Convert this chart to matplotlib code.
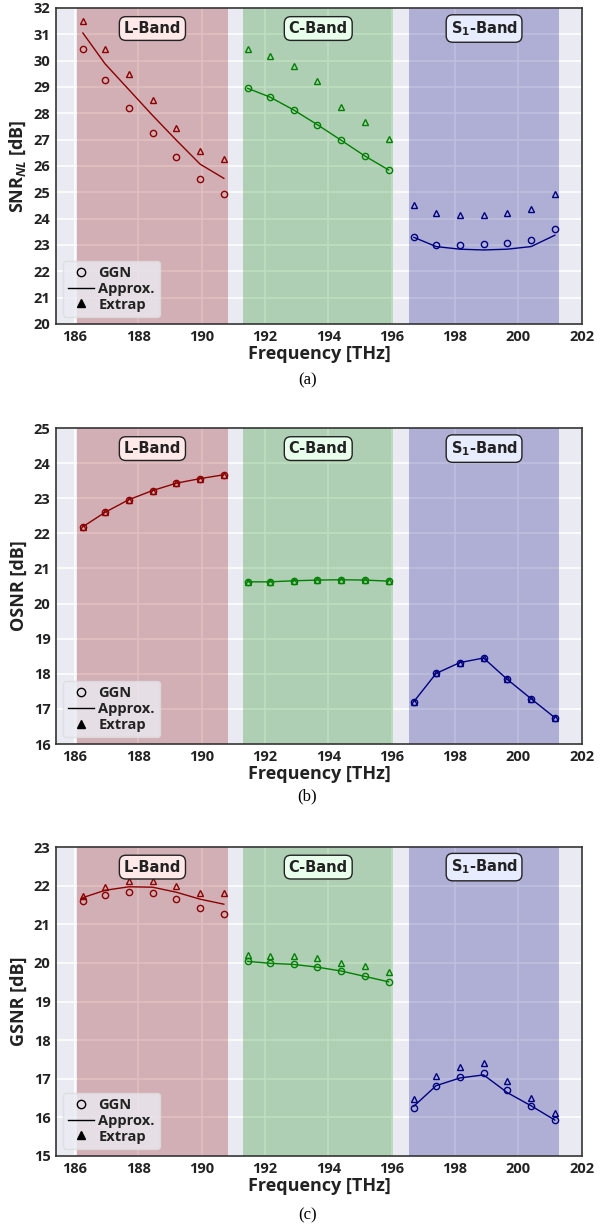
import numpy as np
import matplotlib
matplotlib.use('Agg')
import matplotlib.pyplot as plt
from matplotlib.lines import Line2D

plt.rcParams['font.family'] = ['Open Sans', 'DejaVu Sans']
plt.rcParams['font.weight'] = 'bold'
plt.rcParams['mathtext.fontset'] = 'custom'
plt.rcParams['mathtext.rm'] = 'Open Sans:bold'
plt.rcParams['mathtext.it'] = 'Open Sans:italic:bold'
plt.rcParams['mathtext.bf'] = 'Open Sans:bold'

# channel frequencies [THz]
f_L = [186.25, 186.95, 187.7, 188.45, 189.2, 189.95, 190.7]
f_C = [191.45, 192.15, 192.9, 193.65, 194.4, 195.15, 195.9]
f_S = [196.7, 197.4, 198.15, 198.9, 199.65, 200.4, 201.15]

bands = ['L-Band', 'C-Band', r'S$_1$-Band']
band_lo = [186.07, 191.31, 196.55]
band_hi = [190.82, 196.05, 201.28]
band_col = ['darkred', 'green', 'navy']
box_col = ['#FFE8E8', '#E8FFEC', '#E8ECFF']

# (a) SNR_NL
snr_ggn_L = [30.45, 29.25, 28.2, 27.25, 26.35, 25.5, 24.95]
snr_app_L = [31.05, 29.88, 28.9, 27.92, 26.98, 26.07, 25.53]
snr_ext_L = [31.5, 30.45, 29.48, 28.5, 27.45, 26.55, 26.27]
snr_ggn_C = [28.95, 28.62, 28.13, 27.57, 26.98, 26.38, 25.85]
snr_app_C = [28.95, 28.62, 28.13, 27.57, 26.98, 26.38, 25.85]
snr_ext_C = [30.46, 30.18, 29.79, 29.21, 28.24, 27.68, 27.03]
snr_ggn_S = [23.3, 23.0, 22.98, 23.02, 23.08, 23.19, 23.62]
snr_app_S = [23.29, 22.94, 22.84, 22.81, 22.84, 22.94, 23.37]
snr_ext_S = [24.53, 24.23, 24.15, 24.15, 24.23, 24.35, 24.93]

# (b) OSNR
osnr_L = [22.19, 22.6, 22.96, 23.22, 23.43, 23.56, 23.67]
osnr_C = [20.62, 20.62, 20.65, 20.67, 20.68, 20.67, 20.64]
osnr_S = [17.21, 18.01, 18.32, 18.45, 17.84, 17.29, 16.75]

# (c) GSNR
gsnr_ggn_L = [21.6, 21.76, 21.84, 21.8, 21.66, 21.43, 21.26]
gsnr_app_L = [21.69, 21.88, 21.97, 21.96, 21.83, 21.65, 21.52]
gsnr_ext_L = [21.73, 21.96, 22.12, 22.13, 22.0, 21.81, 21.8]
gsnr_ggn_C = [20.04, 19.99, 19.96, 19.89, 19.79, 19.65, 19.51]
gsnr_app_C = [20.04, 19.99, 19.96, 19.89, 19.79, 19.65, 19.51]
gsnr_ext_C = [20.21, 20.18, 20.17, 20.13, 20.0, 19.91, 19.76]
gsnr_ggn_S = [16.25, 16.82, 17.04, 17.16, 16.7, 16.3, 15.94]
gsnr_app_S = [16.29, 16.82, 17.02, 17.1, 16.64, 16.3, 15.93]
gsnr_ext_S = [16.47, 17.08, 17.31, 17.42, 16.93, 16.51, 16.12]

panels = [
    dict(pos=[0.091, 0.7364, 0.855, 0.2571], ylim=(20, 32), ylabel=r'SNR$_{NL}$ [dB]', cap='(a)', capy=380,
         ggn=[snr_ggn_L, snr_ggn_C, snr_ggn_S], app=[snr_app_L, snr_app_C, snr_app_S],
         ext=[snr_ext_L, snr_ext_C, snr_ext_S]),
    dict(pos=[0.091, 0.3946, 0.855, 0.2571], ylim=(16, 25), ylabel='OSNR [dB]', cap='(b)', capy=796,
         ggn=[osnr_L, osnr_C, osnr_S], app=[osnr_L, osnr_C, osnr_S], ext=[osnr_L, osnr_C, osnr_S]),
    dict(pos=[0.091, 0.0594, 0.855, 0.2514], ylim=(15, 23), ylabel='GSNR [dB]', cap='(c)', capy=1215,
         ggn=[gsnr_ggn_L, gsnr_ggn_C, gsnr_ggn_S], app=[gsnr_app_L, gsnr_app_C, gsnr_app_S],
         ext=[gsnr_ext_L, gsnr_ext_C, gsnr_ext_S]),
]

fig = plt.figure(figsize=(6.15, 12.29), dpi=100)
freqs = [f_L, f_C, f_S]

for p in panels:
    ax = fig.add_axes(p['pos'])
    ax.set_facecolor('#EAEAF2')
    ax.grid(True, color='white', linewidth=1.1)
    ax.set_axisbelow(True)
    for s in ax.spines.values():
        s.set_color('#333333')
        s.set_linewidth(1.2)
    for k in range(3):
        ax.axvspan(band_lo[k], band_hi[k], color=band_col[k], alpha=0.25, lw=0, zorder=1)
        ax.plot(freqs[k], p['app'][k], '-', color=band_col[k], lw=1.0, zorder=3)
        ax.plot(freqs[k], p['ggn'][k], 'o', mfc='none', mec=band_col[k], ms=4.5, mew=1.0, zorder=4)
        ax.plot(freqs[k], p['ext'][k], '^', mfc='none', mec=band_col[k], ms=4.5, mew=1.0, zorder=4)
        ax.text((band_lo[k] + band_hi[k]) / 2, 0.935, bands[k], transform=ax.get_xaxis_transform(),
                ha='center', va='center', fontsize=10.5, fontweight='bold', color='#222222', zorder=5,
                family='DejaVu Sans', math_fontfamily='dejavusans',
                bbox=dict(boxstyle='round,pad=0.3,rounding_size=0.45', fc=box_col[k], ec='#222222', lw=1.0))
    ax.set_xlim(185.4, 202)
    ax.set_ylim(*p['ylim'])
    ax.set_xticks(np.arange(186, 203, 2))
    ax.set_yticks(np.arange(p['ylim'][0], p['ylim'][1] + 1, 1))
    ax.tick_params(length=0, labelsize=10.5, pad=4, labelcolor='#222222')
    for lab in ax.get_xticklabels() + ax.get_yticklabels():
        lab.set_fontweight('bold')
    ax.set_xlabel('Frequency [THz]', fontsize=13, fontweight='bold', labelpad=1, color='#222222')
    ax.set_ylabel(p['ylabel'], fontsize=13, fontweight='bold', labelpad=4, color='#222222')
    handles = [Line2D([], [], ls='none', marker='o', mfc='none', mec='black', ms=6),
               Line2D([], [], color='black', lw=1.0),
               Line2D([], [], ls='none', marker='^', color='black', ms=6)]
    leg = ax.legend(handles, ['GGN', 'Approx.', 'Extrap'], loc='lower left', fontsize=10.5,
                    frameon=True, handlelength=1.75, handletextpad=0.3, labelspacing=0.12,
                    borderpad=0.35, borderaxespad=0.5)
    leg.get_frame().set_facecolor('#EAEAF2')
    leg.get_frame().set_alpha(0.8)
    leg.get_frame().set_edgecolor('#DDDDDD')
    for t in leg.get_texts():
        t.set_fontweight('bold')
        t.set_color('#222222')
    fig.text(0.5, 1 - p['capy'] / 1229, p['cap'], ha='center', va='center', fontsize=12,
             family='Liberation Serif', fontweight='normal')

fig.savefig('out.png', dpi=100)
